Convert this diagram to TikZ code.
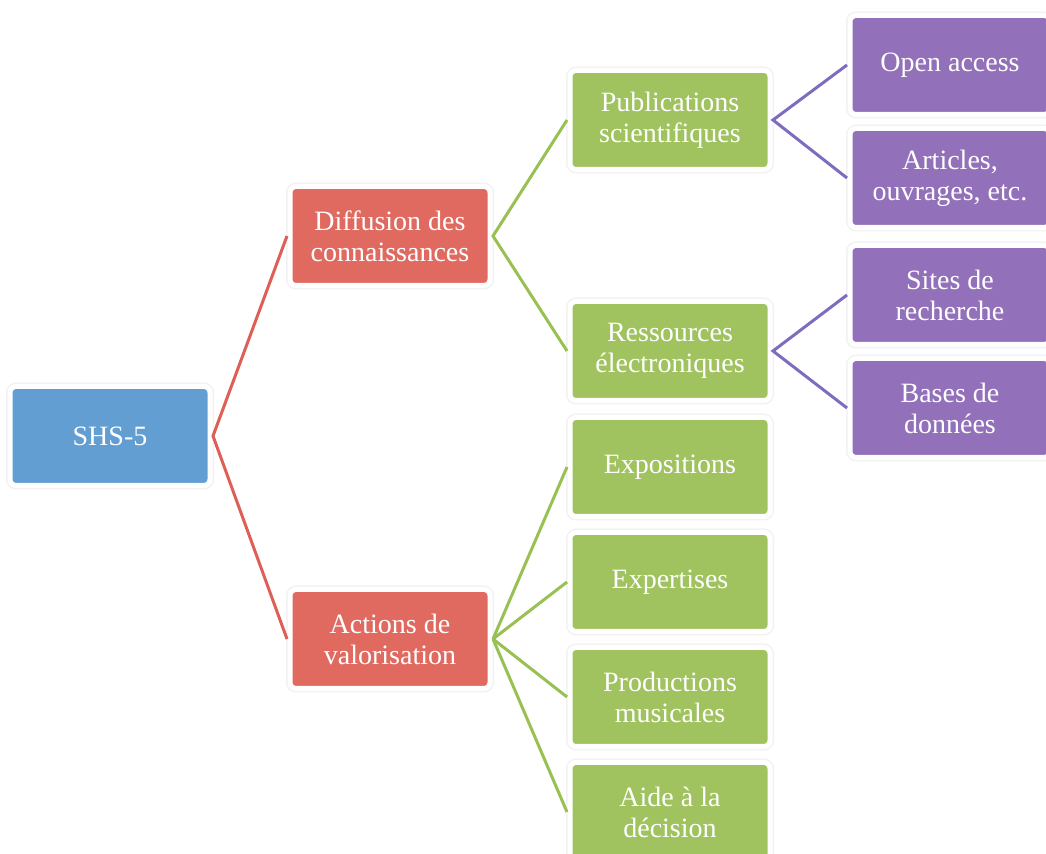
\documentclass[tikz,border=0pt]{standalone}
\usepackage{fontspec}
\setmainfont{Liberation Serif}
\definecolor{shsblue}{RGB}{99,158,211}
\definecolor{shsred}{RGB}{224,106,96}
\definecolor{shsgreen}{RGB}{160,195,95}
\definecolor{shspurple}{RGB}{146,112,186}
\definecolor{redline}{RGB}{222,95,85}
\definecolor{greenline}{RGB}{152,192,82}
\definecolor{purpleline}{RGB}{128,108,190}
\tikzset{
  box/.style={rectangle, rounded corners=3pt, minimum width=100pt, minimum height=49.5pt,
    align=center, text=white, font=\fontsize{14}{15.5}\selectfont,
    draw=white, line width=2.5pt, outer sep=1.5pt,
    preaction={draw=black!5, line width=4pt}},
  lvlzero/.style={box, fill=shsblue},
  lvlone/.style={box, fill=shsred},
  lvltwo/.style={box, fill=shsgreen},
  lvlthree/.style={box, fill=shspurple},
  branch/.style={line width=1.5pt}
}
\begin{document}
\begin{tikzpicture}[x=0.5pt,y=-0.5pt]
        \useasboundingbox (0,0) rectangle (1046,854);
        % nodes
        \node[lvlzero] (shs) at (110,436) {SHS-5};
        \node[lvlone] (diff) at (390,236) {Diffusion des\\connaissances};
        \node[lvlone] (act) at (390,639) {Actions de\\valorisation};
        \node[lvltwo] (pub) at (670,120) {Publications\\scientifiques};
        \node[lvltwo] (res) at (670,351) {Ressources\\électroniques};
        \node[lvltwo] (expo) at (670,467) {Expositions};
        \node[lvltwo] (expe) at (670,582) {Expertises};
        \node[lvltwo] (prod) at (670,697) {Productions\\musicales};
        \node[lvltwo] (aide) at (670,812) {Aide à la\\décision};
        \node[lvlthree] (open) at (950,65) {Open access};
        \node[lvlthree] (art) at (950,178) {Articles,\\ouvrages, etc.};
        \node[lvlthree] (site) at (950,295) {Sites de\\recherche};
        \node[lvlthree] (base) at (950,408) {Bases de\\données};
        % branches
        \draw[branch,redline] (diff.west) -- (shs.east) -- (act.west);
        \draw[branch,greenline] (pub.west) -- (diff.east) -- (res.west);
        \draw[branch,greenline] (act.east) -- (expo.west);
        \draw[branch,greenline] (act.east) -- (expe.west);
        \draw[branch,greenline] (act.east) -- (prod.west);
        \draw[branch,greenline] (act.east) -- (aide.west);
        \draw[branch,purpleline] (open.west) -- (pub.east) -- (art.west);
        \draw[branch,purpleline] (site.west) -- (res.east) -- (base.west);
\end{tikzpicture}
\end{document}
